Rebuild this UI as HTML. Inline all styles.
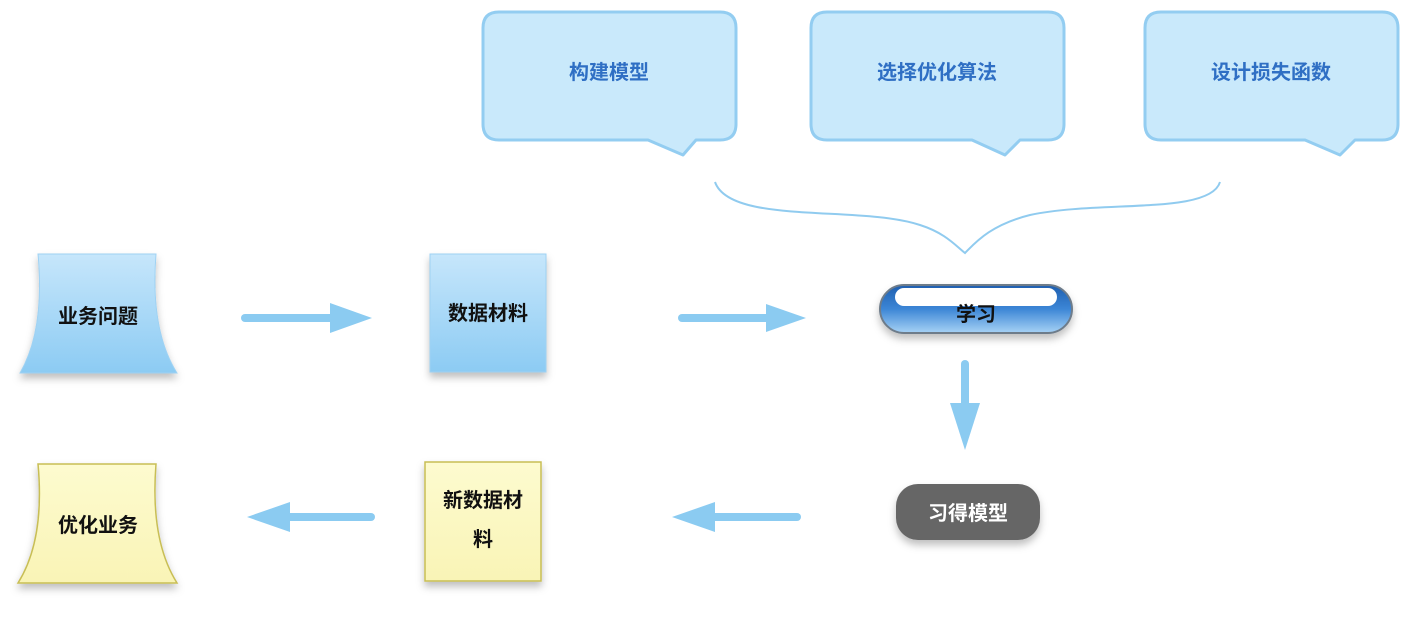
<!DOCTYPE html>
<html><head><meta charset="utf-8"><style>
html,body{margin:0;padding:0;background:#fff;}
svg{display:block;}
text{font-family:"Liberation Sans","Noto Sans CJK SC",sans-serif;font-weight:bold;}
</style></head><body>
<svg width="1416" height="630" viewBox="0 0 1416 630" xmlns="http://www.w3.org/2000/svg">
<defs>
<linearGradient id="bl" x1="0" y1="0" x2="0" y2="1"><stop offset="0" stop-color="#c6e6fb"/><stop offset="1" stop-color="#8ccbf3"/></linearGradient>
<linearGradient id="yl" x1="0" y1="0" x2="0" y2="1"><stop offset="0" stop-color="#fdfbcf"/><stop offset="1" stop-color="#f9f4b6"/></linearGradient>
<linearGradient id="pill" x1="0" y1="0" x2="0" y2="1"><stop offset="0" stop-color="#1f5fb0"/><stop offset="0.5" stop-color="#3c86d6"/><stop offset="1" stop-color="#a7d2f5"/></linearGradient>
<filter id="sh" x="-20%" y="-20%" width="140%" height="150%"><feDropShadow dx="0" dy="5" stdDeviation="4" flood-color="#000" flood-opacity="0.25"/></filter>
</defs>

<g fill="#c9e9fb" stroke="#93cdf1" stroke-width="3" stroke-linejoin="round">
<path d="M499,12 H720 Q736,12 736,28 V124 Q736,140 720,140 H696 L683,155 L648,140 H499 Q483,140 483,124 V28 Q483,12 499,12 Z"/>
<path d="M827,12 H1048 Q1064,12 1064,28 V124 Q1064,140 1048,140 H1020 L1005,155 L972,140 H827 Q811,140 811,124 V28 Q811,12 827,12 Z"/>
<path d="M1161,12 H1382 Q1398,12 1398,28 V124 Q1398,140 1382,140 H1355 L1340,155 L1305,140 H1161 Q1145,140 1145,124 V28 Q1145,12 1161,12 Z"/>
</g>
<g fill="#2f6fc4" font-size="20" text-anchor="middle">
<text x="609" y="79">构建模型</text>
<text x="937" y="79">选择优化算法</text>
<text x="1271" y="79">设计损失函数</text>
</g>

<path d="M715,182 C730,225 860,205 920,225 C945,233 955,245 965,253 C975,243 990,225 1030,215 C1100,200 1210,215 1220,182" fill="none" stroke="#90cbef" stroke-width="2"/>

<path d="M38,254 H156 Q150,330 177,373 H20 Q45,330 38,254 Z" fill="url(#bl)" stroke="#9fd2f3" stroke-width="1" filter="url(#sh)"/>
<rect x="430" y="254" width="116" height="118" fill="url(#bl)" stroke="#9fd2f3" filter="url(#sh)"/>
<path d="M38,464 H156 Q150,540 177,583 H18 Q45,540 38,464 Z" fill="url(#yl)" stroke="#c8be55" stroke-width="1.5" filter="url(#sh)"/>
<rect x="425" y="462" width="116" height="119" fill="url(#yl)" stroke="#c8be55" stroke-width="1.5" filter="url(#sh)"/>

<g fill="#111" font-size="20" text-anchor="middle">
<text x="98" y="323">业务问题</text>
<text x="488" y="320">数据材料</text>
<text x="98" y="532">优化业务</text>
<text x="483" y="507">新数据材</text>
<text x="483" y="546">料</text>
</g>

<rect x="880" y="285" width="192" height="48" rx="24" fill="url(#pill)" stroke="#6e7c8a" stroke-width="2" filter="url(#sh)"/>
<rect x="895" y="288" width="162" height="18" rx="9" fill="#fff"/>
<text x="976" y="321" font-size="20" text-anchor="middle" fill="#111">学习</text>

<rect x="896" y="484" width="144" height="56" rx="22" fill="#666" filter="url(#sh)"/>
<text x="968" y="520" font-size="20" text-anchor="middle" fill="#fff">习得模型</text>

<g stroke="#8bcbf1" stroke-width="8" stroke-linecap="round" fill="none">
<line x1="245" y1="318" x2="335" y2="318"/>
<line x1="682" y1="318" x2="772" y2="318"/>
<line x1="965" y1="364" x2="965" y2="408"/>
<line x1="797" y1="517" x2="710" y2="517"/>
<line x1="371" y1="517" x2="285" y2="517"/>
</g>
<g fill="#8bcbf1">
<polygon points="330,303 372,318 330,333"/>
<polygon points="766,304 806,318 766,332"/>
<polygon points="950,403 980,403 965,450"/>
<polygon points="715,502 672,517 715,532"/>
<polygon points="290,502 247,517 290,532"/>
</g>
</svg>
</body></html>
